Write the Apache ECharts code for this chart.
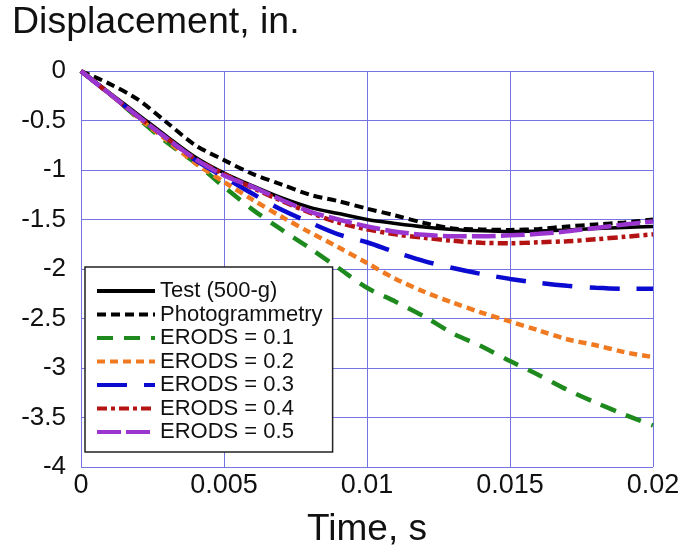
<!DOCTYPE html>
<html>
<head>
<meta charset="utf-8">
<script src="https://cdn.jsdelivr.net/npm/echarts@6/dist/echarts.min.js"></script>
<style>
html,body{margin:0;padding:0;background:#fff;}
#chart{width:683px;height:547px;}
</style>
</head>
<body>
<div id="chart"></div>
<script>
var times = [0, 0.001, 0.002, 0.003, 0.004, 0.005, 0.006, 0.007, 0.008, 0.009, 0.010, 0.011, 0.012, 0.013, 0.014, 0.015, 0.016, 0.017, 0.018, 0.019, 0.020];
var testVals = [0, -0.22, -0.44, -0.66, -0.87, -1.03, -1.16, -1.28, -1.377, -1.44, -1.50, -1.54, -1.575, -1.60, -1.613, -1.62, -1.615, -1.605, -1.59, -1.58, -1.57];
var photoVals = [0, -0.13, -0.29, -0.52, -0.75, -0.90, -1.04, -1.145, -1.25, -1.315, -1.39, -1.46, -1.535, -1.59, -1.60, -1.605, -1.595, -1.57, -1.55, -1.53, -1.50];
var erods01 = [0, -0.23, -0.48, -0.72, -0.93, -1.17, -1.40, -1.60, -1.79, -1.99, -2.19, -2.33, -2.48, -2.65, -2.78, -2.93, -3.07, -3.22, -3.35, -3.47, -3.58];
var erods02 = [0, -0.23, -0.47, -0.70, -0.93, -1.12, -1.30, -1.47, -1.63, -1.78, -1.94, -2.10, -2.23, -2.34, -2.44, -2.53, -2.62, -2.71, -2.77, -2.84, -2.89];
var erods03 = [0, -0.23, -0.46, -0.68, -0.90, -1.07, -1.24, -1.40, -1.53, -1.65, -1.73, -1.83, -1.92, -1.99, -2.05, -2.10, -2.14, -2.17, -2.19, -2.20, -2.20];
var erods04 = [0, -0.23, -0.46, -0.68, -0.89, -1.04, -1.18, -1.31, -1.43, -1.53, -1.60, -1.65, -1.685, -1.715, -1.735, -1.74, -1.73, -1.72, -1.70, -1.675, -1.65];
var erods05 = [0, -0.23, -0.46, -0.68, -0.89, -1.055, -1.17, -1.30, -1.42, -1.50, -1.57, -1.623, -1.655, -1.67, -1.67, -1.66, -1.645, -1.62, -1.585, -1.55, -1.52];
var seriesNames = ['Test (500-g)', 'Photogrammetry', 'ERODS = 0.1', 'ERODS = 0.2', 'ERODS = 0.3', 'ERODS = 0.4', 'ERODS = 0.5'];
var xTicks = ['0', '0.005', '0.01', '0.015', '0.02'];

function pairs(vals) { return times.map(function (t, i) { return [t, vals[i]]; }); }

var FONT = 'Liberation Sans';
var gridColor = '#7474e2';

var styles = [
  { color: '#000000', width: 3.5, type: 'solid' },
  { color: '#000000', width: 4, type: [9, 5] },
  { color: '#1e8a1e', width: 4.5, type: [16, 11] },
  { color: '#f07a22', width: 4.5, type: [8, 5] },
  { color: '#0a0ad0', width: 4.5, type: [30, 17] },
  { color: '#b31313', width: 4.5, type: [10, 4, 4, 4] },
  { color: '#9b35d0', width: 4.5, type: [24, 5] }
];
var allVals = [testVals, photoVals, erods01, erods02, erods03, erods04, erods05];

var series = allVals.map(function (v, i) {
  return {
    name: seriesNames[i],
    type: 'line',
    data: pairs(v),
    smooth: 0.3,
    showSymbol: false,
    symbol: 'none',
    lineStyle: { color: styles[i].color, width: styles[i].width, type: styles[i].type },
    itemStyle: { color: styles[i].color }
  };
});

var legendData = seriesNames.map(function (n, i) {
  return {
    name: n,
    itemStyle: { opacity: 0 },
    lineStyle: { color: styles[i].color, width: 4, type: styles[i].type }
  };
});

var chart = echarts.init(document.getElementById('chart'));
chart.setOption({
  animation: false,
  backgroundColor: '#ffffff',
  title: {
    text: 'Displacement, in.',
    left: 12, top: 4, padding: 0,
    textStyle: { fontFamily: FONT, fontSize: 37.5, fontWeight: 'normal', color: '#111' }
  },
  grid: { left: 81, right: 30, top: 71, bottom: 80, containLabel: false, outerBoundsMode: 'none' },
  legend: {
    orient: 'vertical',
    left: 85, top: 267,
    padding: [13, 10, 9, 10],
    backgroundColor: '#ffffff',
    borderColor: '#222',
    borderWidth: 1.5,
    itemWidth: 58,
    itemHeight: 14,
    itemGap: 1.5,
    textStyle: { fontFamily: FONT, fontSize: 22, color: '#111', lineHeight: 22 },
    data: legendData
  },
  xAxis: {
    type: 'value', min: 0, max: 0.02, interval: 0.005,
    name: 'Time, s', nameLocation: 'middle', nameGap: 44,
    nameTextStyle: { fontFamily: FONT, fontSize: 37, color: '#111' },
    axisLine: { show: true, lineStyle: { color: gridColor, width: 1 } },
    axisTick: { show: false },
    splitLine: { show: true, lineStyle: { color: gridColor, width: 1 } },
    axisLabel: {
      fontFamily: FONT, fontSize: 27, color: '#111', margin: 5,
      formatter: function (v) { return xTicks[Math.round(v / 0.005)]; }
    }
  },
  yAxis: {
    type: 'value', min: -4, max: 0, interval: 0.5,
    axisLine: { show: true, lineStyle: { color: gridColor, width: 1 } },
    axisTick: { show: false },
    splitLine: { show: true, lineStyle: { color: gridColor, width: 1 } },
    axisLabel: { fontFamily: FONT, fontSize: 26, color: '#111', margin: 15 }
  },
  series: series
});
</script>
</body>
</html>
